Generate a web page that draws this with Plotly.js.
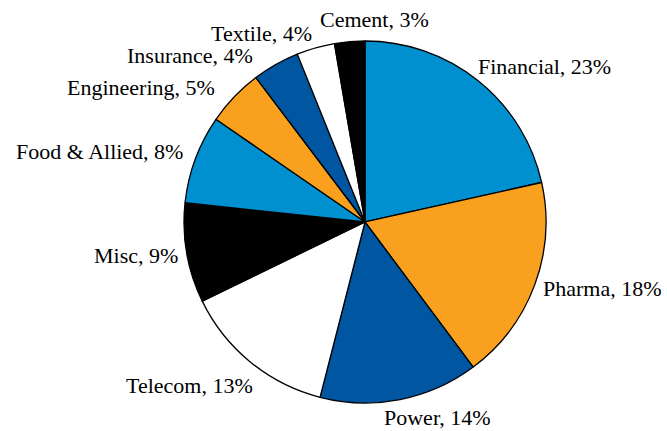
<!DOCTYPE html>
<html><head><meta charset="utf-8">
<script src="https://cdn.plot.ly/plotly-3.0.1.min.js"></script>
<style>html,body{margin:0;padding:0;background:#fff;}#chart{width:667px;height:431px;}</style>
</head><body><div id="chart"></div>
<script>
const categories = ["Financial","Pharma","Power","Telecom","Misc","Food & Allied","Engineering","Insurance","Textile","Cement"];
// share printed on each label (%)
const labelShares = [23,18,14,13,9,8,5,4,4,3];
// slice sizes as drawn in the picture (%)
const drawnShares = [21.5,18.3,14.2,13.8,8.9,7.9,5.1,4.2,3.4,2.7];
const sliceColors = ["#0090CF","#F9A11F","#0056A1","#FFFFFF","#000000","#0090CF","#F9A11F","#0056A1","#FFFFFF","#000000"];

// layout: per-label pixel nudges [dx right, dy down]
const labelNudge = [[-7,6],[0,1],[36,-3],[9,3],[0,1],[-4,-5],[-12,10],[-17,12],[-52,7],[25,-1]];

const W = 667, H = 431;
const dom = {x:[0.2759,0.8186], y:[0.065,0.9049]};
const FONT = "Liberation Serif, DejaVu Serif, serif";

const cx = (dom.x[0]+dom.x[1])/2*W;
const cy = (1-(dom.y[0]+dom.y[1])/2)*H;
const R = Math.min((dom.x[1]-dom.x[0])*W,(dom.y[1]-dom.y[0])*H)/2;
const total = drawnShares.reduce((a,b)=>a+b,0);
let cum = 0;
const annotations = categories.map((c,i)=>{
  const mid = (cum + drawnShares[i]/2)/total*2*Math.PI;
  cum += drawnShares[i];
  const s = Math.sin(mid), co = Math.cos(mid);
  const r = R + 7;
  const px = cx + r*s, py = cy - r*co;
  return {
    x: px/W, y: 1-py/H, xref:"paper", yref:"paper",
    xshift: labelNudge[i][0], yshift: -labelNudge[i][1],
    text: c + ", " + labelShares[i] + "%",
    showarrow:false,
    xanchor: s>0.3 ? "left" : (s<-0.3 ? "right" : "center"),
    yanchor: co>0.5 ? "bottom" : (co<-0.5 ? "top" : "middle"),
    font:{family:FONT,size:22,color:"#000"}
  };
});

Plotly.newPlot("chart",[{
  type:"pie",
  labels:categories,
  values:drawnShares,
  sort:false,
  direction:"clockwise",
  rotation:0,
  marker:{colors:sliceColors,line:{color:"#000",width:1.3}},
  textinfo:"none",
  hoverinfo:"none",
  automargin:false,
  domain:dom
}],{
  width:W,height:H,
  margin:{l:0,r:0,t:0,b:0},
  showlegend:false,
  paper_bgcolor:"#fff",
  annotations:annotations
},{staticPlot:true});
</script></body></html>
